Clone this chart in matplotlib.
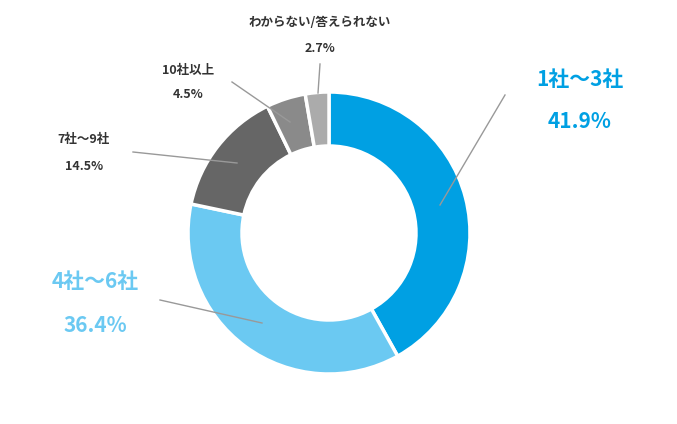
import matplotlib
matplotlib.use("Agg")
import matplotlib.pyplot as plt

categories = ["1社～3社", "4社～6社", "7社～9社", "10社以上", "わからない/答えられない"]
shares = [41.9, 36.4, 14.5, 4.5, 2.7]
colors = ["#00a0e3", "#6bc9f2", "#666666", "#8a8a8a", "#ababab"]

W, H = 677, 424
fig = plt.figure(figsize=(W / 100, H / 100), dpi=100)
ax = fig.add_axes([0, 0, 1, 1])
ax.set_xlim(0, W)
ax.set_ylim(0, H)
ax.axis("off")
plt.rcParams["font.family"] = ["Noto Sans CJK JP", "DejaVu Sans"]

cx, cy = 329, H - 233
ax.pie(shares, colors=colors, startangle=90, counterclock=False,
       center=(cx, cy), radius=141, frame=True,
       wedgeprops=dict(width=54, edgecolor="white", linewidth=2.5))
ax.set_xlim(0, W)
ax.set_ylim(0, H)
ax.set_aspect("equal")
ax.axis("off")

# leader lines (pixel coords, y from top)
leaders = [((440, 205), (505, 95)), ((262, 323), (160, 300)),
           ((237, 163), (133, 152)), ((290, 122), (232, 82)),
           ((318, 93), (320, 64))]
for (x0, y0), (x1, y1) in leaders:
    ax.plot([x0, x1], [H - y0, H - y1], color="#999999", linewidth=1)

big = [(580, 80, 122, colors[0]), (95, 282, 325, colors[1])]
for i, (x, y1, y2, c) in enumerate(big):
    ax.text(x, H - y1, categories[i], ha="center", va="center",
            fontsize=15, fontweight="bold", color=c)
    ax.text(x, H - y2, f"{shares[i]}%", ha="center", va="center",
            fontsize=15, fontweight="bold", color=c)

small = [(84, 140, 166), (188, 70, 95), (320, 22, 48)]
for i, (x, y1, y2) in zip(range(2, 5), small):
    ax.text(x, H - y1, categories[i], ha="center", va="center",
            fontsize=9, fontweight="bold", color="#333333")
    ax.text(x, H - y2, f"{shares[i]}%", ha="center", va="center",
            fontsize=9, fontweight="bold", color="#333333")

fig.savefig("out.png", dpi=100)
